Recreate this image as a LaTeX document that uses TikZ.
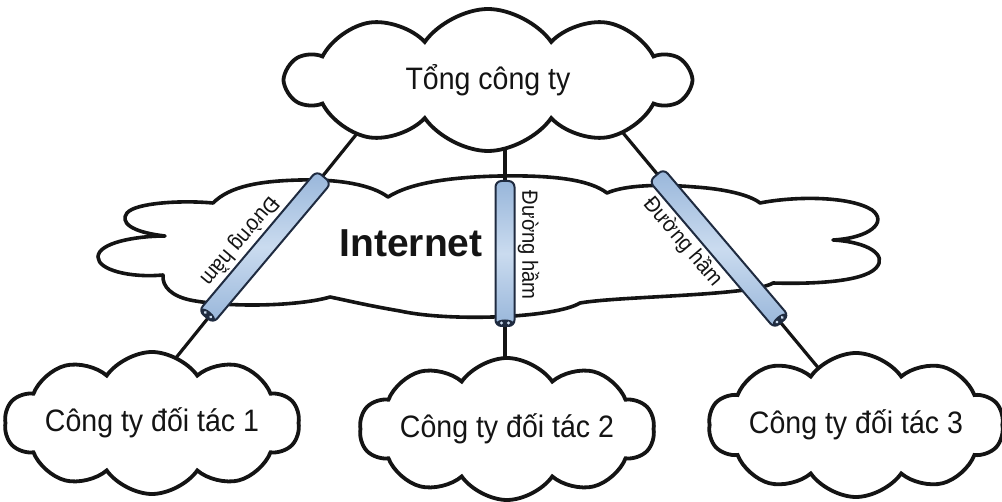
\documentclass[tikz,border=0pt]{standalone}
\usepackage{fontspec}
\setmainfont{Liberation Sans}
\newfontfamily\narrowsans[FakeStretch=0.92]{Liberation Sans}
\usetikzlibrary{shapes.symbols,calc}
\definecolor{tubeedge}{HTML}{1F2B40}
\definecolor{tubeside}{HTML}{98B6DA}
\definecolor{tubemid}{HTML}{CADBEF}
\definecolor{ink}{HTML}{141414}
\pgfdeclarelayer{back}
\pgfdeclarelayer{wires}
\pgfsetlayers{back,wires,main}
\tikzset{
  cloudbox/.style={cloud, cloud puffs=10, cloud puff arc=110, cloud ignores aspect,
    draw=ink, line width=3.8pt, fill=white, inner sep=0pt, text=ink,
    font=\narrowsans\fontsize{31}{34}\selectfont},
  wire/.style={draw=ink, line width=3.2pt},
  tube/.style={rectangle, rounded corners=6pt, draw=tubeedge, line width=2pt,
    top color=tubeside, bottom color=tubeside, middle color=tubemid,
    minimum height=19pt, inner sep=0pt},
  tubelabel/.style={font=\narrowsans\fontsize{22}{24}\selectfont, text=ink, inner sep=2pt},
}
\begin{document}
\begin{tikzpicture}[x=1pt,y=-1pt]
\useasboundingbox (0,0) rectangle (1002,502);

% clouds
\node[cloudbox, minimum width=402pt, minimum height=142pt] (hq) at (488,80) {Tổng công ty};
\node[cloudbox, minimum width=285pt, minimum height=142pt] (p1) at (152,423) {Công ty đối tác 1};
\node[cloudbox, minimum width=283pt, minimum height=142pt] (p2) at (507,429) {Công ty đối tác 2};
\node[cloudbox, minimum width=282pt, minimum height=144pt] (p3) at (856,425) {Công ty đối tác 3};

% Internet cloud
\begin{pgfonlayer}{back}
\draw[ink, line width=3.6pt, line join=round]
  (213,203) .. controls (230,186) and (260,181) .. (300,180)
  .. controls (340,179) and (372,185) .. (388,197)
  .. controls (410,183) and (450,177) .. (500,176)
  .. controls (555,175) and (590,180) .. (607,193)
  .. controls (625,185) and (660,184) .. (695,187)
  .. controls (725,189) and (750,195) .. (760,203)
  .. controls (795,196) and (850,196) .. (872,210)
  .. controls (888,222) and (870,238) .. (833,240)
  .. controls (868,242) and (888,255) .. (876,268)
  .. controls (862,283) and (805,284) .. (773,283)
  .. controls (752,296) and (620,296) .. (580,303)
  .. controls (555,318) and (450,322) .. (400,311)
  .. controls (365,305) and (345,300) .. (330,297)
  .. controls (300,306) and (230,308) .. (190,300)
  .. controls (172,296) and (162,287) .. (163,275)
  .. controls (130,278) and (98,270) .. (98,257)
  .. controls (98,243) and (135,236) .. (165,236)
  .. controls (130,232) and (120,222) .. (127,213)
  .. controls (135,203) and (180,200) .. (213,203) -- cycle;
\end{pgfonlayer}
\node[font=\bfseries\fontsize{39}{42}\selectfont, text=ink] (inet) at (411,243) {Internet};

% connectors
\begin{pgfonlayer}{wires}
\draw[wire] ($(hq.center)+(-112,30)$) -- ($(p1.center)+(-2,-33)$);
\draw[wire] ($(hq.center)+(17,50)$) -- ($(p2.center)+(-2,-29)$);
\draw[wire] ($(hq.center)+(116,30)$) -- ($(p3.center)+(-11,-25)$);
\end{pgfonlayer}

% tunnels
\node[tube, minimum width=183pt, rotate=-130.1] (t1) at (265,247) {};
\node[tube, minimum width=145pt, rotate=-90] (t2) at (505,253.5) {};
\node[tube, minimum width=193pt, rotate=-49.6] (t3) at (719,248.5) {};

\foreach \t/\a in {t1/-130.1, t2/-90, t3/-49.6} {
  \begin{scope}[shift={(\t.east)}, rotate=\a]
    \fill[tubeedge] (-4,0) ellipse [x radius=3.5, y radius=8.5];
    \fill[tubemid] (-4,3.5) circle [radius=1.6];
    \fill[tubemid] (-4,-3.5) circle [radius=1.6];
  \end{scope}
}

\node[tubelabel, rotate=-130.1, anchor=north] (lab1) at ($(t1.south west)!0.565!(t1.south east)$) {Đường hầm};
\node[tubelabel, rotate=-90, anchor=south] (lab2) at ($(t2.north west)!0.445!(t2.north east)$) {Đường hầm};
\node[tubelabel, rotate=-49.6, anchor=north] (lab3) at ($(t3.south west)!0.354!(t3.south east)$) {Đường hầm};
\end{tikzpicture}
\end{document}
